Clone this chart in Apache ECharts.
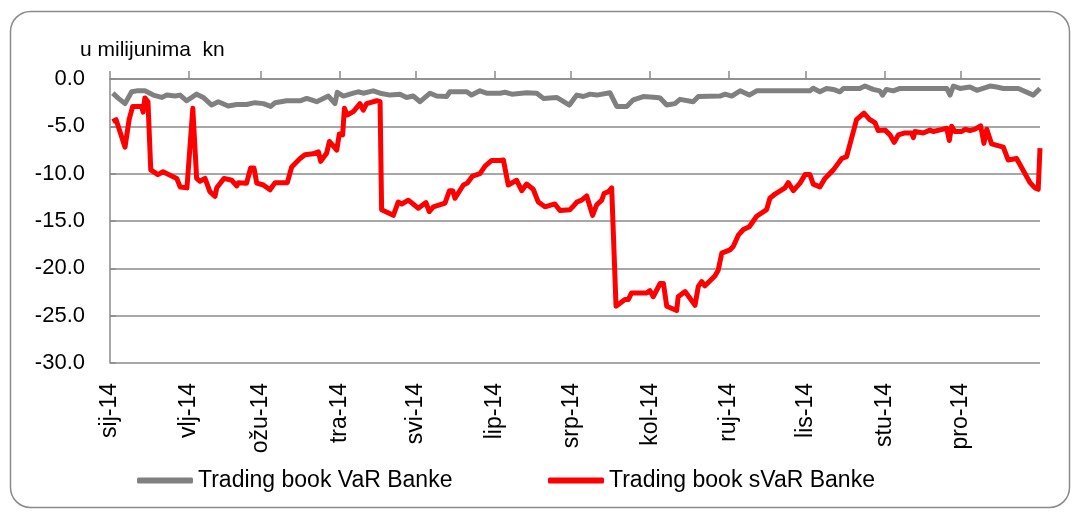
<!DOCTYPE html>
<html>
<head>
<meta charset="utf-8">
<script src="https://cdn.jsdelivr.net/npm/echarts@6/dist/echarts.min.js"></script>
<style>
html,body{margin:0;padding:0;background:#fff;}
#chart{width:1075px;height:513px;}
</style>
</head>
<body>
<div id="chart"></div>
<script>
// Month labels (Croatian) and day-of-year where each month starts (2014)
const monthLabels = ['sij-14','vlj-14','ožu-14','tra-14','svi-14','lip-14','srp-14','kol-14','ruj-14','lis-14','stu-14','pro-14'];
const monthStarts = [0,31,59,90,120,151,181,212,243,273,304,334];

// Trading book VaR Banke (grey): day of year, value in millions kn
const varDays = [1.1,3.3,5.9,8.5,10.5,13.7,17.0,20.3,22.3,25.5,27.5,30.1,34.0,36.6,39.9,42.5,46.4,49.7,53.6,56.9,60.2,63.1,64.8,69.3,74.6,77.2,81.1,85.7,88.3,89.2,91.6,95.5,97.4,99.4,103.3,106.0,109.9,113.8,116.4,119.0,121.7,125.6,128.2,132.1,133.4,140.0,141.9,145.2,147.8,153.1,155.0,157.7,163.5,167.5,170.1,175.3,180.3,183.2,185.8,188.4,191.0,196.2,198.9,202.8,205.4,209.3,214.6,215.9,218.5,221.7,223.7,228.9,230.9,239.4,241.4,244.0,247.3,250.9,253.8,274.7,276.0,278.6,281.2,283.9,286.5,287.8,294.3,296.3,299.5,302.1,303.2,304.7,307.4,310.0,328.4,329.7,331.0,333.6,337.5,340.2,345.4,348.0,350.6,356.5,362.4,365.0];
const varValues = [-1.5,-2.05,-2.6,-1.35,-1.25,-1.25,-1.7,-1.95,-1.7,-1.8,-1.7,-2.3,-1.6,-1.95,-2.75,-2.4,-2.85,-2.7,-2.7,-2.5,-2.6,-2.9,-2.5,-2.3,-2.3,-2.05,-2.4,-1.8,-2.6,-1.4,-1.8,-1.5,-1.35,-1.5,-1.25,-1.5,-1.7,-1.6,-1.95,-1.8,-2.4,-1.5,-1.8,-1.85,-1.35,-1.35,-1.7,-1.25,-1.5,-1.5,-1.4,-1.6,-1.45,-1.5,-2.05,-1.95,-2.75,-1.7,-1.85,-1.6,-1.7,-1.45,-2.9,-2.9,-2.2,-1.85,-1.95,-2.0,-2.75,-2.6,-2.15,-2.4,-1.85,-1.8,-1.6,-1.8,-1.25,-1.7,-1.25,-1.25,-0.98,-1.35,-1.0,-1.1,-1.35,-1.0,-1.0,-0.74,-1.1,-1.25,-1.7,-1.1,-1.25,-1.0,-1.0,-1.7,-0.74,-1.0,-0.85,-1.2,-0.74,-0.85,-1.0,-1.0,-1.7,-1.0];

// Trading book sVaR Banke (red)
const svarDays = [1.0,2.4,5.9,7.5,8.9,12.4,13.0,13.7,14.9,16.0,18.8,20.8,26.2,27.5,30.2,32.5,34.0,35.3,37.3,39.2,41.2,41.9,44.7,47.8,49.7,50.4,53.6,55.2,56.5,57.6,60.2,62.8,64.8,69.6,71.3,74.6,76.5,79.7,81.8,82.7,85.0,86.1,89.0,90.0,91.3,92.0,93.1,95.5,98.1,99.4,100.7,104.7,106.0,106.6,111.2,113.1,114.5,117.1,121.0,124.0,125.3,126.9,131.5,133.2,134.5,135.4,138.7,140.2,142.3,145.2,147.2,149.8,153.1,154.4,156.3,159.6,161.6,163.5,166.1,168.1,170.7,174.6,176.6,180.5,181.6,183.2,185.1,187.1,189.4,191.0,193.0,193.9,195.6,196.9,198.6,202.1,203.4,204.7,210.6,211.9,213.2,215.9,217.2,218.5,222.4,223.0,225.7,229.6,230.9,232.2,233.5,237.4,238.7,240.1,243.3,244.6,246.6,248.6,250.9,253.8,257.7,259.0,261.0,264.9,266.2,268.2,270.8,272.8,274.7,276.0,278.6,280.6,283.9,287.2,289.1,293.0,295.9,298.0,300.2,301.5,304.2,306.1,307.8,309.4,312.0,314.6,315.3,315.9,319.2,321.8,323.1,327.0,328.4,329.4,330.3,331.6,334.3,335.6,337.5,339.5,341.7,343.0,344.1,346.0,350.6,352.5,355.8,361.1,363.0,364.3,365.0];
const svarValues = [-4.5,-4.3,-7.2,-4.3,-2.9,-2.9,-3.5,-2.0,-2.4,-9.6,-10.1,-9.8,-10.5,-11.4,-11.5,-3.1,-10.5,-10.8,-10.5,-11.9,-12.4,-11.5,-10.5,-10.7,-11.3,-10.95,-11.0,-9.4,-9.4,-11.0,-11.2,-11.7,-10.95,-10.95,-9.3,-8.4,-8.0,-7.9,-7.7,-8.7,-7.85,-6.6,-7.5,-5.8,-5.9,-3.1,-3.8,-3.45,-2.6,-3.3,-2.6,-2.3,-2.4,-13.8,-14.4,-13.0,-13.2,-12.8,-13.65,-13.05,-14.0,-13.5,-13.1,-11.8,-11.8,-12.6,-11.2,-11.0,-10.25,-10.0,-9.2,-8.6,-8.6,-8.55,-11.2,-10.7,-11.8,-11.1,-11.65,-13.0,-13.5,-13.2,-13.9,-13.8,-13.5,-13.0,-12.8,-12.35,-14.4,-13.3,-12.8,-12.1,-11.9,-11.5,-24.0,-23.3,-23.3,-22.6,-22.6,-22.35,-23.0,-21.6,-21.6,-24.0,-24.45,-23.0,-22.45,-23.9,-21.9,-21.4,-21.85,-20.8,-20.2,-18.4,-18.05,-17.7,-16.5,-15.9,-15.6,-14.5,-13.8,-12.6,-12.15,-11.5,-10.95,-11.8,-11.0,-10.1,-10.1,-11.1,-11.4,-10.5,-9.6,-8.4,-8.2,-4.3,-3.6,-4.25,-4.6,-5.45,-5.4,-5.9,-6.7,-5.9,-5.7,-5.7,-6.2,-5.55,-5.7,-5.4,-5.55,-5.3,-5.2,-6.5,-5.0,-5.55,-5.55,-5.3,-5.45,-5.3,-4.95,-6.8,-5.3,-6.85,-7.2,-8.55,-8.4,-10.95,-11.5,-11.65,-7.3];

const seriesNames = ['Trading book VaR Banke','Trading book sVaR Banke'];
const titleText = 'u milijunima  kn';

const FONT = '"Liberation Sans", Arial, sans-serif';
const AXIS_GREY = '#8a8a8a';

const chart = echarts.init(document.getElementById('chart'), null, {renderer:'canvas'});
chart.setOption({
  animation:false,
  backgroundColor:'#ffffff',
  textStyle:{fontFamily:FONT},
  graphic:[{
    type:'rect', left:8, top:9, z:-10,
    shape:{width:1059, height:496, r:20},
    style:{fill:'none', stroke:'#8a8a8a', lineWidth:1.5}
  }],
  title:{
    text:titleText, left:75, top:35,
    textStyle:{fontFamily:FONT, fontSize:21, fontWeight:'normal', color:'#000'}
  },
  legend:[
    {data:[seriesNames[0]], left:137, top:469, padding:0, itemWidth:56, itemHeight:6, icon:'roundRect',
     textStyle:{fontFamily:FONT, fontSize:23, color:'#000'}},
    {data:[seriesNames[1]], left:548, top:469, padding:0, itemWidth:56, itemHeight:6, icon:'roundRect',
     textStyle:{fontFamily:FONT, fontSize:23, color:'#000'}}
  ],
  grid:{left:110, right:35, top:79, bottom:150, containLabel:false},
  xAxis:[
    {
      type:'value', min:0, max:365, position:'bottom',
      axisLine:{show:false}, axisTick:{show:false}, splitLine:{show:false},
      axisLabel:{
        customValues:monthStarts, rotate:90, margin:20,
        fontFamily:FONT, fontSize:23, color:'#000',
        formatter:function(v){ const i = monthStarts.indexOf(Math.round(v)); return i>=0 ? monthLabels[i] : ''; }
      }
    },
    {
      type:'value', min:0, max:365, position:'top',
      axisLine:{show:true, lineStyle:{color:AXIS_GREY, width:1.5}},
      axisTick:{show:true, customValues:monthStarts, length:8, inside:false, lineStyle:{color:AXIS_GREY, width:1.5}},
      axisLabel:{show:false}, splitLine:{show:false}
    }
  ],
  yAxis:{
    type:'value', min:-30, max:0, interval:5,
    axisLine:{show:true, lineStyle:{color:AXIS_GREY, width:1.5}},
    axisTick:{show:true, inside:true, length:6, lineStyle:{color:AXIS_GREY, width:1.5}},
    axisLabel:{fontFamily:FONT, fontSize:22, color:'#000', margin:25,
      formatter:function(v){ return v.toFixed(1); }},
    splitLine:{show:true, lineStyle:{color:AXIS_GREY, width:1.5}}
  },
  series:[
    {
      name:seriesNames[0], type:'line', xAxisIndex:0,
      data:varDays.map((d,i)=>[d,varValues[i]]),
      showSymbol:false, symbol:'none',
      lineStyle:{color:'#808080', width:5, join:'round'},
      itemStyle:{color:'#808080'}
    },
    {
      name:seriesNames[1], type:'line', xAxisIndex:0,
      data:svarDays.map((d,i)=>[d,svarValues[i]]),
      showSymbol:false, symbol:'none',
      lineStyle:{color:'#ff0000', width:5, join:'round'},
      itemStyle:{color:'#ff0000'}
    }
  ]
});
</script>
</body>
</html>
